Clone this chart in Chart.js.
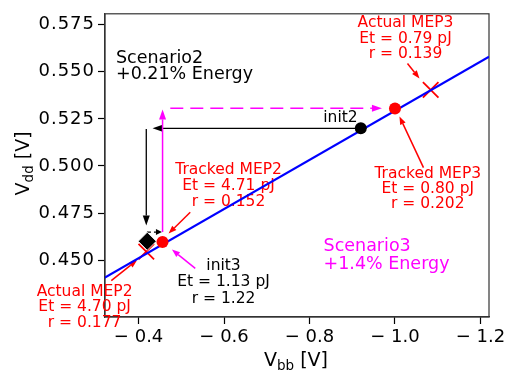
<!DOCTYPE html>
<html>
<head>
<meta charset="utf-8">
<script src="https://cdn.jsdelivr.net/npm/chart.js@4/dist/chart.umd.min.js"></script>
<style>
  html, body { margin: 0; padding: 0; background: #fff; }
  canvas { display: block; }
</style>
</head>
<body>
<canvas id="mep-chart" width="510" height="372"></canvas>
<script>
// tick values
const vbbTicks = [-0.4, -0.6, -0.8, -1.0, -1.2];
const vddTicks = [0.450, 0.475, 0.500, 0.525, 0.550, 0.575];

// MEP line (end points)
const lineVbb = [-0.32, -1.22];
const lineVdd = [0.4406, 0.5580];

// tracked MEP2, tracked MEP3
const trackedVbb = [-0.456, -1.000];
const trackedVdd = [0.4596, 0.5305];

// actual MEP2, actual MEP3
const actualVbb = [-0.418, -1.0835];
const actualVdd = [0.4545, 0.5404];

// init2 point and scenario2 end point
const init2Vbb = [-0.920];
const init2Vdd = [0.520];
const endVbb = [-0.4203];
const endVdd = [0.4600];

const FONT = '"DejaVu Sans", sans-serif';

// annotations (data coords)
const arrows = [
  { from: [-0.915, 0.520], to: [-0.4327, 0.520], color: '#000', width: 1.3 },
  { from: [-0.418, 0.5196], to: [-0.418, 0.4684], color: '#000', width: 1.3 },
  { from: [-0.4196, 0.4649], to: [-0.4547, 0.4649], color: '#000', width: 1.3, dash: [4, 3], head: 6, headW: 3 },
  { from: [-0.4561, 0.4649], to: [-0.4561, 0.5300], color: '#ff00ff', width: 1.5 },
  { from: [-0.4742, 0.5307], to: [-0.9694, 0.5307], color: '#ff00ff', width: 1.5, dash: [13, 7] },
  { from: [-1.0292, 0.5544], to: [-1.0573, 0.5465], color: '#ff0000', width: 1.5, head: 8, headW: 3 },
  { from: [-1.0667, 0.4991], to: [-1.0105, 0.5263], color: '#ff0000', width: 1.5, head: 8, headW: 3 },
  { from: [-0.5209, 0.4754], to: [-0.4702, 0.4641], color: '#ff0000', width: 1.5, head: 8, headW: 3 },
  { from: [-0.3361, 0.4391], to: [-0.3963, 0.4500], color: '#ff0000', width: 1.5, head: 8, headW: 3 },
  { from: [-0.5326, 0.4456], to: [-0.4781, 0.4556], color: '#ff00ff', width: 1.5, head: 8, headW: 3 }
];

const notes = [
  { at: [-1.0246, 0.5759], lines: ['Actual MEP3', 'Et = 0.79 pJ', 'r = 0.139'], color: '#ff0000', size: 15.5, gap: 15.5 },
  { at: [-1.0767, 0.4959], lines: ['Tracked MEP3', 'Et = 0.80 pJ', 'r = 0.202'], color: '#ff0000', size: 15.5, gap: 15.3 },
  { at: [-0.6105, 0.4977], lines: ['Tracked MEP2', 'Et = 4.71 pJ', 'r = 0.152'], color: '#ff0000', size: 15.5, gap: 15.8 },
  { at: [-0.2737, 0.4333], lines: ['Actual MEP2', 'Et = 4.70 pJ', 'r = 0.177'], color: '#ff0000', size: 15.5, gap: 15.5 },
  { at: [-0.5988, 0.4468], lines: ['init3', 'Et = 1.13 pJ', 'r = 1.22'], color: '#000', size: 15.5, gap: 16.2 },
  { at: [-0.8725, 0.5254], lines: ['init2'], color: '#000', size: 15.5, gap: 0 },
  { at: [-0.3471, 0.5570], lines: ['Scenario2', '+0.21% Energy'], color: '#000', size: 17.5, gap: 16, align: 'left' },
  { at: [-0.8328, 0.4575], lines: ['Scenario3', '+1.4% Energy'], color: '#ff00ff', size: 17.5, gap: 18.5, align: 'left' }
];

function pts(xs, ys) {
  return xs.map((x, i) => ({ x: x, y: ys[i] }));
}

function drawArrow(ctx, x1, y1, x2, y2, a) {
  const ang = Math.atan2(y2 - y1, x2 - x1);
  const hl = a.head || 10, hw = a.headW || 3.5;
  const bx = x2 - hl * Math.cos(ang), by = y2 - hl * Math.sin(ang);
  ctx.save();
  ctx.strokeStyle = a.color;
  ctx.fillStyle = a.color;
  ctx.lineWidth = a.width;
  ctx.setLineDash(a.dash || []);
  ctx.beginPath();
  ctx.moveTo(x1, y1);
  ctx.lineTo(bx, by);
  ctx.stroke();
  ctx.setLineDash([]);
  ctx.beginPath();
  ctx.moveTo(x2, y2);
  ctx.lineTo(bx + hw * Math.sin(ang), by - hw * Math.cos(ang));
  ctx.lineTo(bx - hw * Math.sin(ang), by + hw * Math.cos(ang));
  ctx.closePath();
  ctx.fill();
  ctx.restore();
}

// "V" + subscript + " [V]"
function drawSubLabel(ctx, sub, cx, base) {
  const big = '19px ' + FONT, small = '13.5px ' + FONT;
  ctx.font = big;
  const w1 = ctx.measureText('V').width;
  const w3 = ctx.measureText(' [V]').width;
  ctx.font = small;
  const w2 = ctx.measureText(sub).width;
  let x = cx - (w1 + w2 + w3) / 2;
  ctx.textAlign = 'left';
  ctx.textBaseline = 'alphabetic';
  ctx.fillStyle = '#000';
  ctx.font = big;
  ctx.fillText('V', x, base);
  ctx.font = small;
  ctx.fillText(sub, x + w1, base + 3.5);
  ctx.font = big;
  ctx.fillText(' [V]', x + w1 + w2, base);
}

const decor = {
  id: 'decor',
  beforeDatasetsDraw(chart) {
    const ctx = chart.ctx, sx = chart.scales.x, sy = chart.scales.y;
    const ca = chart.chartArea;
    ctx.save();
    ctx.letterSpacing = '0px';
    // frame
    ctx.strokeStyle = '#333';
    ctx.lineWidth = 1.2;
    ctx.strokeRect(ca.left, ca.top, ca.right - ca.left, ca.bottom - ca.top);

    notes.forEach(n => {
      const x = sx.getPixelForValue(n.at[0]);
      const y = sy.getPixelForValue(n.at[1]);
      ctx.font = n.size + 'px ' + FONT;
      ctx.fillStyle = n.color;
      ctx.textAlign = n.align || 'center';
      ctx.textBaseline = 'middle';
      n.lines.forEach((t, i) => ctx.fillText(t, x, y + i * n.gap));
    });

    arrows.forEach(a => {
      drawArrow(ctx,
        sx.getPixelForValue(a.from[0]), sy.getPixelForValue(a.from[1]),
        sx.getPixelForValue(a.to[0]), sy.getPixelForValue(a.to[1]), a);
    });

    // axis titles
    drawSubLabel(ctx, 'bb', (ca.left + ca.right) / 2 - 1, 366);
    ctx.save();
    ctx.translate(29, (ca.top + ca.bottom) / 2 - 2);
    ctx.rotate(-Math.PI / 2);
    drawSubLabel(ctx, 'dd', 0, 0);
    ctx.restore();
    ctx.restore();
  }
};

const chart = new Chart(document.getElementById('mep-chart').getContext('2d'), {
  type: 'scatter',
  data: {
    datasets: [{
      data: pts(trackedVbb, trackedVdd),
      pointStyle: 'circle',
      pointRadius: 6,
      backgroundColor: '#ff0000',
      borderColor: '#ff0000',
      borderWidth: 0,
      order: 0
    }, {
      data: pts(init2Vbb, init2Vdd),
      pointStyle: 'circle',
      pointRadius: 6,
      backgroundColor: '#000',
      borderColor: '#000',
      borderWidth: 0,
      order: 1
    }, {
      data: pts(endVbb, endVdd),
      pointStyle: 'rectRot',
      pointRadius: 9,
      backgroundColor: '#000',
      borderColor: '#fff',
      borderWidth: 0.8,
      order: 2
    }, {
      data: pts(lineVbb, lineVdd),
      showLine: true,
      pointRadius: 0,
      borderColor: '#0000ff',
      borderWidth: 2,
      order: 3
    }, {
      data: pts(actualVbb, actualVdd),
      pointStyle: 'crossRot',
      pointRadius: 11,
      borderColor: '#ff0000',
      borderWidth: 1.8,
      order: 4
    }]
  },
  options: {
    responsive: false,
    animation: false,
    devicePixelRatio: 1,
    layout: { padding: { left: 0, right: 21, top: 12, bottom: 0 } },
    plugins: { legend: { display: false }, tooltip: { enabled: false } },
    scales: {
      x: {
        type: 'linear',
        reverse: true,
        min: -1.22,
        max: -0.3214,
        afterBuildTicks: s => { s.ticks = vbbTicks.map(v => ({ value: v })); },
        afterFit: s => { s.height = 55; },
        grid: { display: true, drawOnChartArea: false, tickLength: 7, tickColor: '#000', tickWidth: 1.2 },
        border: { display: true, color: '#333', width: 1.2 },
        ticks: {
          padding: 3,
          color: '#000',
          font: { family: FONT, size: 18 },
          maxRotation: 0,
          callback: v => '\u2212 ' + Math.abs(v).toFixed(1)
        }
      },
      y: {
        type: 'linear',
        min: 0.4198,
        max: 0.5808,
        afterBuildTicks: s => { s.ticks = vddTicks.map(v => ({ value: v })); },
        afterFit: s => { s.width = 105; },
        grid: { display: true, drawOnChartArea: false, tickLength: 7, tickColor: '#000', tickWidth: 1.2 },
        border: { display: true, color: '#333', width: 1.2 },
        ticks: {
          padding: 3,
          color: '#000',
          font: { family: FONT, size: 18 },
          callback: v => v.toFixed(3)
        }
      }
    }
  },
  plugins: [decor]
});

// the y tick labels of the reference are a little wider spaced
const yScale = chart.scales.y;
const drawYLabels = yScale.drawLabels;
yScale.drawLabels = function (area) {
  this.ctx.save();
  this.ctx.letterSpacing = '1px';
  drawYLabels.call(this, area);
  this.ctx.restore();
};
chart.draw();
</script>
</body>
</html>
